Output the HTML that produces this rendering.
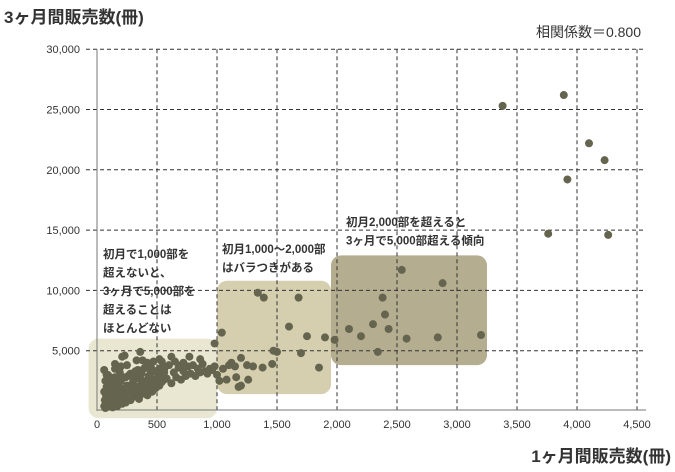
<!DOCTYPE html>
<html><head><meta charset="utf-8"><style>
body{margin:0;background:#fff;}
svg{display:block;font-family:"Liberation Sans","Noto Sans CJK JP",sans-serif;}
</style></head><body>
<svg id="chart" width="675" height="472" viewBox="0 0 675 472">
<text x="4" y="23" font-size="17" font-weight="bold" fill="#333">3ヶ月間販売数(冊)</text>
<text x="641" y="37" font-size="14" fill="#333" text-anchor="end">相関係数＝0.800</text>
<text x="671" y="462" font-size="17" font-weight="bold" fill="#333" text-anchor="end">1ヶ月間販売数(冊)</text>
<g id="boxes"></g><g id="grid"></g><g id="dots"></g><g id="notes"></g>
</svg>
<script>
const xTicks=[0,500,1000,1500,2000,2500,3000,3500,4000,4500];
const xTickLabels=["0","500","1,000","1,500","2,000","2,500","3,000","3,500","4,000","4,500"];
const yTicks=[5000,10000,15000,20000,25000,30000];
const yTickLabels=["5,000","10,000","15,000","20,000","25,000","30,000"];
const sales1m=[3380,3890,4100,4230,3920,3760,4260,2540,2880,2380,1390,1340,1680,2300,2400,2430,2100,1600,1750,1900,1040,980,2200,2580,2840,3200,2340,1980,1500,1700,1850,1470,1120,1200,1300,1380,1460,1260,1180,1200,1160,1050,1100,1000,1020,1080,1150,1250,
60,65,70,75,80,85,90,95,100,105,110,115,120,125,130,140,150,160,170,180,190,200,210,220,230,240,250,260,270,280,290,300,310,320,330,340,350,360,370,380,390,400,410,420,430,440,450,460,470,480,490,500,
60,70,80,90,100,110,120,130,140,150,160,170,180,190,200,220,240,260,280,300,320,340,360,380,400,420,440,460,480,500,520,540,560,
520,540,560,580,600,620,640,660,680,700,720,740,760,780,800,820,840,860,880,900,920,940,960,980,
60,80,100,120,150,180,210,250,290,330,370,420,470,520,560,
230,360,520,620,200,320,450,540,260,310,420,480,560,650,720,860,380,150,100,700,770];
const sales3m=[25300,26200,22200,20800,19200,14700,14600,11700,10600,9400,9400,9800,9400,7200,8000,6800,6800,7000,6200,6100,6500,5600,6200,6000,6100,6300,4900,5900,4900,4800,3600,5000,4000,4400,3700,3600,3900,2600,2000,2100,2800,3500,3800,3000,2500,2600,3700,3800,
400,900,250,1300,600,1800,350,1100,700,2200,500,1500,900,2600,300,1200,800,1700,400,2400,1000,1900,600,2800,1300,700,2100,1500,3000,900,1800,2400,1200,3300,1600,2000,1000,2700,1400,2200,3500,1700,2500,1300,2900,2000,3200,1600,2300,2600,1900,2100,
1600,2500,2000,3000,1400,2800,1100,2300,1700,3500,2600,1300,2100,3200,2500,1500,2800,1900,3100,2200,1700,3400,2600,2000,3600,2300,2900,2500,3300,2700,2100,3100,2600,
3000,2400,3400,2700,3800,2300,3200,2800,3600,2600,3300,2900,3700,3100,3800,2900,3500,3200,3900,3300,3100,3500,3400,3700,
3400,3000,2000,1500,3900,2700,4500,3800,2200,4200,3100,4000,4100,3500,3200,
4600,4900,4300,4500,3700,3200,3600,4100,2900,2700,3600,3300,3700,4100,4000,4300,4200,2800,1100,3800,4500];
const X=v=>97+v*60/500, Y=v=>411-v*60.3/5000;
const NS="http://www.w3.org/2000/svg";
function mk(tag,attrs,parent,txt){const e=document.createElementNS(NS,tag);for(const k in attrs)e.setAttribute(k,attrs[k]);if(txt!==undefined)e.textContent=txt;document.getElementById(parent).appendChild(e);return e;}
const boxRanges=[[-70,1000,-600,6000,"#e9e7d2"],[1000,1950,1400,10800,"#d5cfaf"],[1950,3250,3800,12900,"#b5ad8f"]];
boxRanges.forEach((b,i)=>{const r=mk('rect',{x:X(b[0]),y:Y(b[3]),width:X(b[1])-X(b[0]),height:Y(b[2])-Y(b[3]),rx:10,fill:b[4]},'boxes');

});
yTicks.forEach((t,i)=>{const l=mk('line',{x1:86,x2:646,y1:Y(t),y2:Y(t),stroke:"#333","stroke-dasharray":"4,3","stroke-width":1},'grid');


const tx=mk('text',{x:80,y:Y(t)+4,"font-size":11,"text-anchor":"end",fill:"#333",textLength:yTickLabels[i].length*5.6,lengthAdjust:"spacingAndGlyphs"},'grid',yTickLabels[i]);

});
xTicks.forEach((t,i)=>{if(t>0){const l=mk('line',{x1:X(t),x2:X(t),y1:Y(30000),y2:Y(0),stroke:"#333","stroke-dasharray":"4,3","stroke-width":1},'grid');

}
const tx=mk('text',{x:X(t),y:428,"font-size":11,"text-anchor":"middle",fill:"#333"},'grid',xTickLabels[i]);

});
const ax=mk('line',{x1:X(0),x2:X(0),y1:Y(30000),y2:Y(0),stroke:"#777"},'grid');


const bx=mk('line',{x1:X(0),x2:646,y1:Y(0)-1,y2:Y(0)-1,stroke:"#777"},'grid');


sales1m.forEach((v,i)=>{const c=mk('circle',{cx:X(v),cy:Y(sales3m[i]),r:4,fill:"#65654f"},'dots');

});
const notes=[[103,258,["初月で1,000部を","超えないと、","3ヶ月で5,000部を","超えることは","ほとんどない"]],[222,253,["初月1,000〜2,000部","はバラつきがある"]],[346,226,["初月2,000部を超えると","3ヶ月で5,000部超える傾向"]]];
notes.forEach((n,i)=>{n[2].forEach((s,j)=>{const t=mk('text',{x:n[0],y:n[1]+j*18.5,"font-size":11.5,"font-weight":"bold",fill:"#333"},'notes',s);

});});
</script>
</body></html>
